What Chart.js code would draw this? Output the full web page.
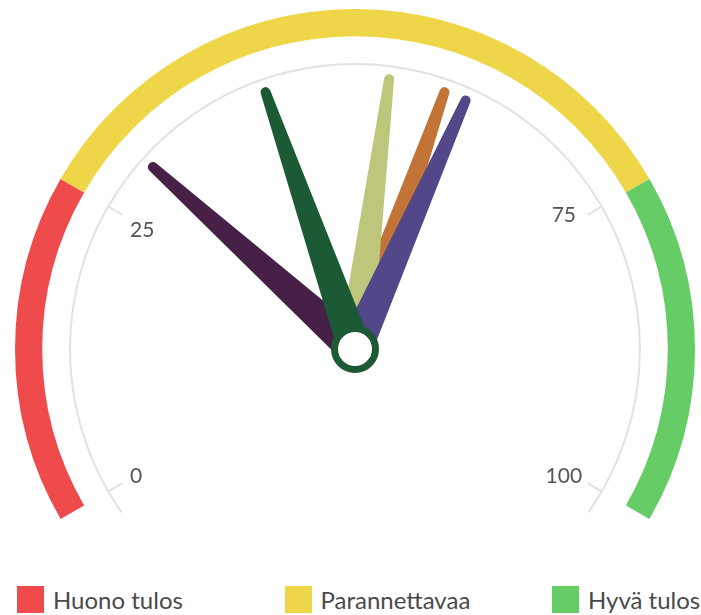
<!DOCTYPE html>
<html>
<head>
<meta charset="utf-8">
<script src="https://cdn.jsdelivr.net/npm/chart.js@4/dist/chart.umd.min.js"></script>
<style>
  body { margin: 0; background: #fff; font-family: Lato, "Open Sans", sans-serif; }
  #wrap { position: relative; width: 701px; height: 615px; }
  #box { position: absolute; left: 0; top: 0; width: 701px; height: 560px; }
  #legend { position: absolute; left: 17px; top: 586px; display: flex; }
  .item { width: 267.5px; display: flex; align-items: center; height: 27px; }
  .sw { width: 27px; height: 27px; margin-right: 9px; }
  .lbl { font-size: 24px; color: #4a4a4a; line-height: 27px; }
</style>
</head>
<body>
<div id="wrap">
  <div id="box"><canvas id="gauge"></canvas></div>
  <div id="legend"></div>
</div>
<script>
'use strict';

// bands of the gauge
let bandNames = ['Huono tulos', 'Parannettavaa', 'Hyvä tulos'];
let bandSizes = [25, 50, 25];
let bandColors = ['#f04b4c', '#efd548', '#66cc66'];

// scale labels (no label at 50)
let tickValues = [0, 25, 75, 100];

// needles, drawn in this order (last on top)
let needleValues = [58, 53, 60, 30, 42];
let needleColors = ['#c27436', '#bdc67b', '#524789', '#462046', '#1b5a34'];

let hubColor = '#1b5a34';

// small shift of each scale label from its spot on the circle
function labelNudge(v) {
    if (v === 25) return [1, 5];
    if (v === 75) return [-5, -10];
    return [-5, 4];
}

// grey scale arc, ticks, labels and the needles
let gaugePlugin = {
    id: 'gaugeExtras',
    afterDatasetsDraw(chart) {
        let arcs = chart.getDatasetMeta(0).data;
        if (!arcs.length) return;
        let first = arcs[0];
        let last = arcs[arcs.length - 1];
        let cx = first.x;
        let cy = first.y;
        let outer = first.outerRadius;
        let a0 = first.startAngle;
        let a1 = last.endAngle;
        let total = bandSizes.reduce((s, v) => s + v, 0);
        let toAngle = (v) => a0 + (a1 - a0) * v / total;
        let ctx = chart.ctx;

        let rScale = outer * 0.838;
        let extra = 5 * Math.PI / 180;

        ctx.save();
        ctx.strokeStyle = '#e2e2e2';
        ctx.lineWidth = 2;
        ctx.beginPath();
        ctx.arc(cx, cy, rScale, a0 - extra, a1 + extra);
        ctx.stroke();

        ctx.font = '21px Lato, "Open Sans", sans-serif';
        ctx.fillStyle = '#555';
        ctx.textAlign = 'center';
        ctx.textBaseline = 'middle';
        tickValues.forEach((v) => {
            let a = toAngle(v);
            let c = Math.cos(a), s = Math.sin(a);
            ctx.beginPath();
            ctx.moveTo(cx + c * rScale, cy + s * rScale);
            ctx.lineTo(cx + c * (rScale - 16), cy + s * (rScale - 16));
            ctx.stroke();
            let rl = rScale - 38;
            let n = labelNudge(v);
            ctx.fillText(String(v), cx + c * rl + n[0], cy + s * rl + n[1]);
        });

        // needles
        let tipR = outer * 0.8;
        let baseW = 17;
        let tipW = 5;
        needleValues.forEach((v, i) => {
            let a = toAngle(v);
            let c = Math.cos(a), s = Math.sin(a);
            let px = -s, py = c;
            let tx = cx + c * tipR, ty = cy + s * tipR;
            ctx.fillStyle = needleColors[i];
            ctx.beginPath();
            ctx.moveTo(cx + px * baseW, cy + py * baseW);
            ctx.lineTo(tx + px * tipW, ty + py * tipW);
            ctx.arc(tx, ty, tipW, a + Math.PI / 2, a - Math.PI / 2, true);
            ctx.lineTo(cx - px * baseW, cy - py * baseW);
            ctx.closePath();
            ctx.fill();
        });

        // hub
        ctx.beginPath();
        ctx.arc(cx, cy, 20.5, 0, Math.PI * 2);
        ctx.fillStyle = '#fff';
        ctx.fill();
        ctx.lineWidth = 7;
        ctx.strokeStyle = hubColor;
        ctx.stroke();
        ctx.restore();
    }
};

let myChart = new Chart(document.getElementById('gauge'), {
    type: 'doughnut',
    data: {
        labels: bandNames,
        datasets: [{
            data: bandSizes,
            backgroundColor: bandColors,
            borderWidth: 0
        }]
    },
    options: {
        responsive: true,
        maintainAspectRatio: false,
        animation: false,
        rotation: -120,
        circumference: 240,
        cutout: '92%',
        layout: { padding: { left: 15, right: 6, top: 9, bottom: 41 } },
        plugins: {
            legend: { display: false },
            tooltip: { enabled: false }
        }
    },
    plugins: [gaugePlugin]
});

// html legend from the band arrays
let legend = document.getElementById('legend');
for (let i = 0; i < bandNames.length; i++) {
    let item = document.createElement('div');
    item.className = 'item';
    let sw = document.createElement('span');
    sw.className = 'sw';
    sw.style.background = bandColors[i];
    let lbl = document.createElement('span');
    lbl.className = 'lbl';
    lbl.textContent = bandNames[i];
    item.appendChild(sw);
    item.appendChild(lbl);
    legend.appendChild(item);
}
</script>
</body>
</html>
